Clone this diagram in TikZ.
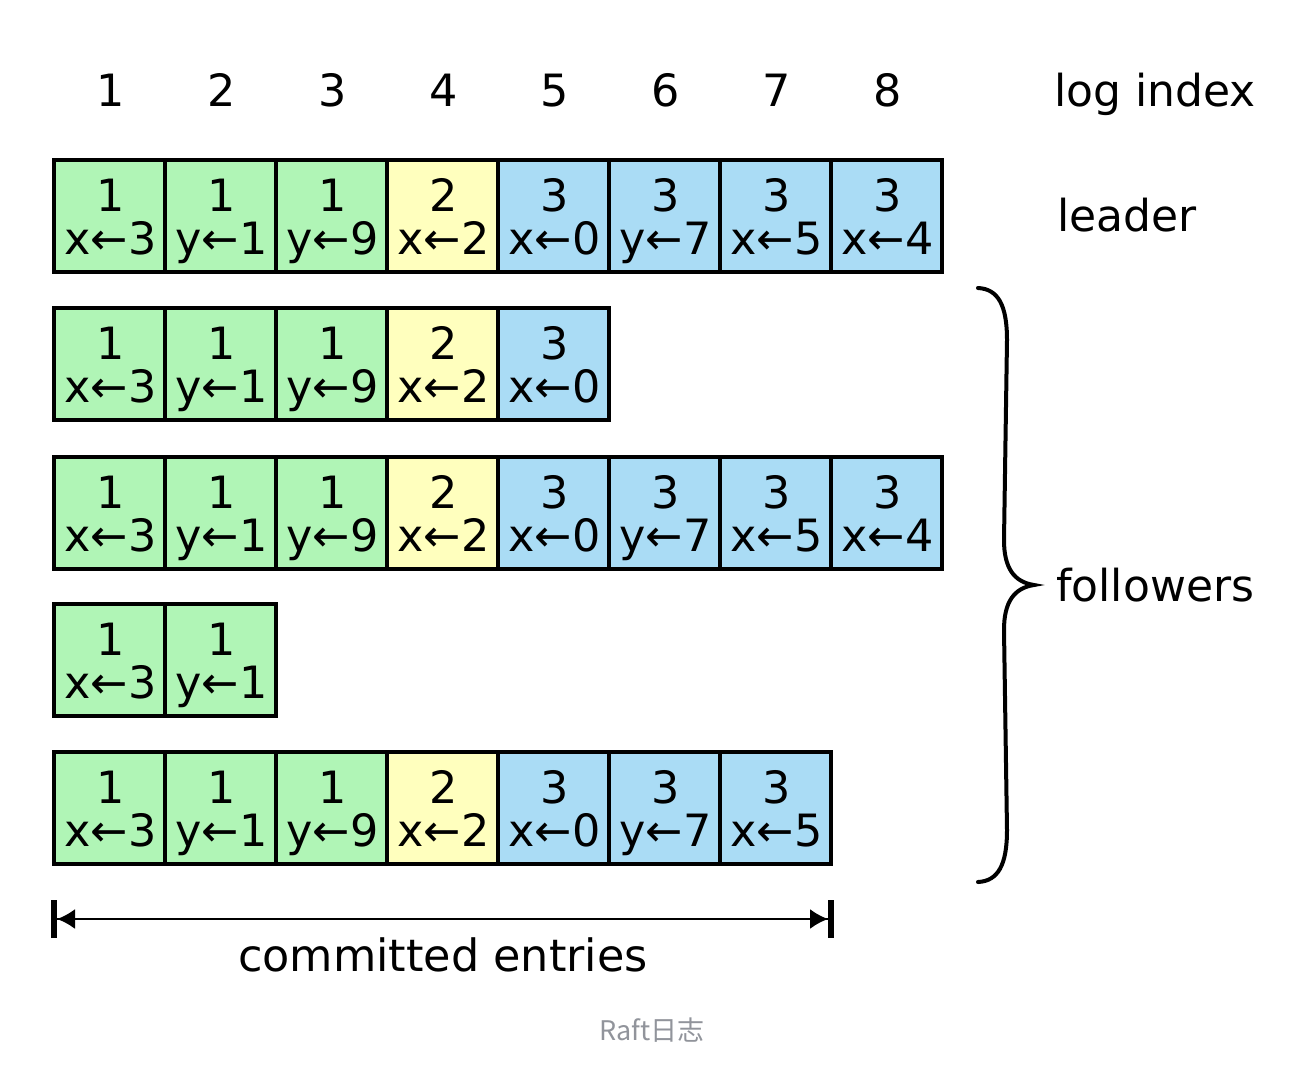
\documentclass[tikz,border=0pt]{standalone}
\usepackage{fontspec}
\setmainfont{DejaVu Sans}
\newfontfamily\cjkfont{Noto Sans CJK SC}
\usetikzlibrary{arrows.meta}
\definecolor{cgreen}{RGB}{176,245,182}
\definecolor{cyellow}{RGB}{255,255,190}
\definecolor{cblue}{RGB}{170,220,245}
\definecolor{capgray}{RGB}{145,148,155}
\begin{document}
\begin{tikzpicture}[x=1pt,y=-1pt,
  cellbox/.style={draw=black,line width=4pt,minimum width=111pt,minimum height=112pt,inner sep=0pt,outer sep=0pt},
  celltext/.style={anchor=base,inner sep=0pt,font=\fontsize{44.5}{46}\selectfont},
  bigtext/.style={anchor=base,inner sep=0pt,font=\fontsize{44.5}{46}\selectfont},
  sidetext/.style={anchor=base west,inner sep=0pt,font=\fontsize{44}{46}\selectfont},
  captext/.style={anchor=base,inner sep=0pt,text=capgray,font=\fontsize{27}{29}\selectfont\cjkfont}]
\useasboundingbox[fill=white] (0,0) rectangle (1304,1080);
% index labels
\foreach \c in {1,...,8} {
  \node[bigtext] (idx\c) at ({54+111*(\c-0.5)+1},106) {\c};
}
\node[sidetext] (logindex) at (1054,106) {log index};
\node[sidetext] (leader) at (1057,231) {leader};
\node[sidetext] (followers) at (1056,601) {followers};
% cells
\foreach \r/\top/\n in {1/160/8, 2/308/5, 3/457/8, 4/604/2, 5/752/7} {
  \foreach \c/\t/\cmd/\col in {1/1/x←3/cgreen, 2/1/y←1/cgreen, 3/1/y←9/cgreen, 4/2/x←2/cyellow, 5/3/x←0/cblue, 6/3/y←7/cblue, 7/3/x←5/cblue, 8/3/x←4/cblue} {
    \ifnum\c>\n\else
      \node[cellbox,fill=\col] (r\r c\c) at ({54+111*(\c-0.5)},{\top+56}) {};
      \node[celltext] (r\r c\c t) at ({54+111*(\c-0.5)+1},{\top+51}) {\t};
      \node[celltext] (r\r c\c m) at ({54+111*(\c-0.5)+1},{\top+94}) {\cmd};
    \fi
  }
}
% brace
\draw[line width=4pt,line cap=round] (978,288) .. controls (998,289) and (1007,305) .. (1007,340)
  -- (1004,540) .. controls (1004,568) and (1014,582) .. (1034,585)
  .. controls (1014,588) and (1004,602) .. (1004,630)
  -- (1007,830) .. controls (1007,865) and (998,881) .. (978,882);
% committed arrow
\coordinate (cl) at (51,919);
\coordinate (cr) at (834,919);
\draw[line width=2pt,{Bar[width=38pt,line width=6pt]Latex[length=18pt,width=20pt]}-{Latex[length=18pt,width=20pt]Bar[width=38pt,line width=6pt]}] (cl) -- (cr);
\node[bigtext] (committed) at (443,971) {committed entries};
\node[captext] (caption) at (652,1040) {Raft日志};
\end{tikzpicture}
\end{document}
